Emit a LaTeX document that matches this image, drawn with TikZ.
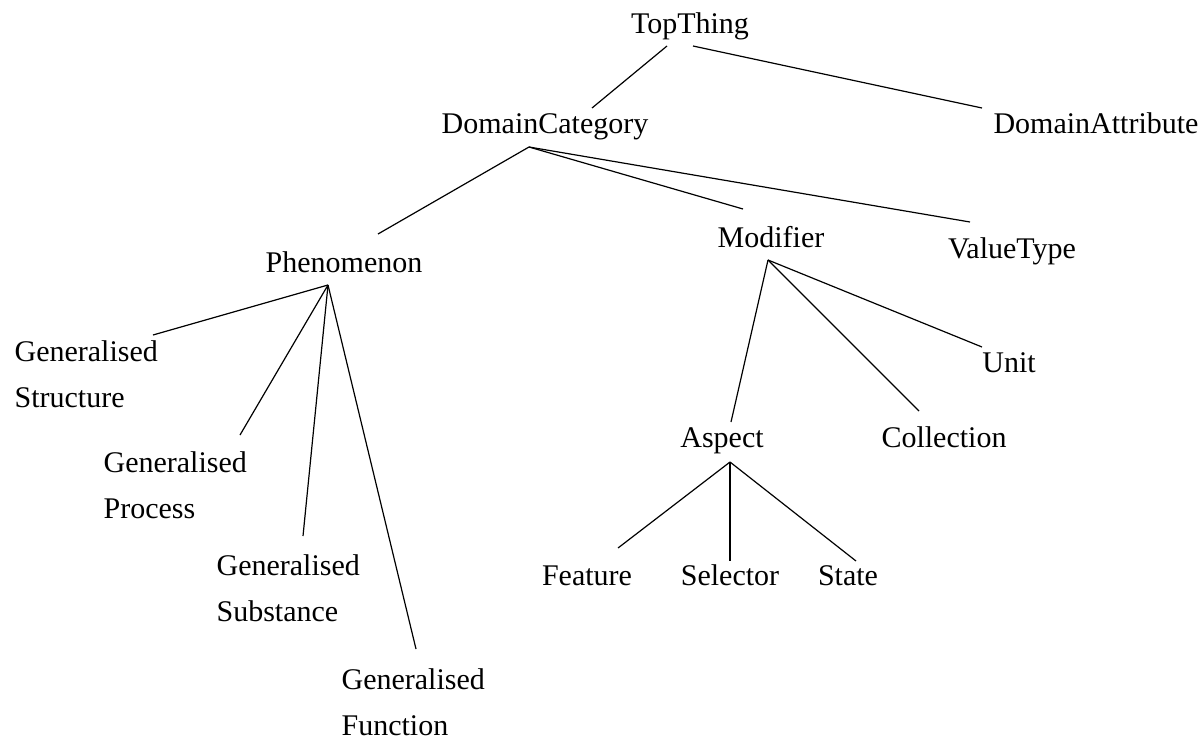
\documentclass[tikz,border=0pt]{standalone}
\usepackage{fontspec}
\setmainfont{Liberation Serif}
\tikzset{lbl/.style={inner sep=0pt,anchor=base,font=\fontsize{15}{23}\selectfont},
	lbltwo/.style={lbl,anchor=base west,align=left}}
\begin{document}
\begin{tikzpicture}[x=0.5pt,y=-0.5pt,line width=0.6pt]
	\useasboundingbox (0,0) rectangle (1203,740);
	\node[lbl] (top) at (690,33) {TopThing};
	\node[lbl] (dcat) at (545,133) {DomainCategory};
	\node[lbl] (dattr) at (1096,133) {DomainAttribute};
	\node[lbl] (phen) at (344,272) {Phenomenon};
	\node[lbl] (modi) at (771,247) {Modifier};
	\node[lbl] (vtype) at (1012,258) {ValueType};
	\node[lbltwo] (gstruct) at (14,407) {Generalised\\Structure};
	\node[lbltwo] (gproc) at (103,518) {Generalised\\Process};
	\node[lbltwo] (gsubst) at (216,621) {Generalised\\Substance};
	\node[lbltwo] (gfunc) at (341,735) {Generalised\\Function};
	\node[lbl] (unit) at (1009,372) {Unit};
	\node[lbl] (aspect) at (722,447) {Aspect};
	\node[lbl] (coll) at (944,447) {Collection};
	\node[lbl] (feat) at (587,585) {Feature};
	\node[lbl] (sel) at (730,585) {Selector};
	\node[lbl] (state) at (848,585) {State};
	\draw ([shift={(-23,13)}]top.base) -- ([shift={(47,-25)}]dcat.base);
	\draw ([shift={(3,13)}]top.base) -- ([shift={(-114,-25)}]dattr.base);
	\draw ([shift={(34,-38)}]phen.base) -- ([shift={(-16,14)}]dcat.base) -- ([shift={(-28,-38)}]modi.base);
	\draw ([shift={(-16,14)}]dcat.base) -- ([shift={(-42,-36)}]vtype.base);
	\draw ([shift={(-16,13)}]phen.base) -- ([shift={(139,-72)}]gstruct.base west);
	\draw ([shift={(-16,13)}]phen.base) -- ([shift={(137,-83)}]gproc.base west);
	\draw ([shift={(-16,13)}]phen.base) -- ([shift={(87,-85)}]gsubst.base west);
	\draw ([shift={(-16,13)}]phen.base) -- ([shift={(75,-86)}]gfunc.base west);
	\draw ([shift={(-3,13)}]modi.base) -- ([shift={(9,-25)}]aspect.base);
	\draw ([shift={(-3,13)}]modi.base) -- ([shift={(-25,-36)}]coll.base);
	\draw ([shift={(-3,13)}]modi.base) -- ([shift={(-27,-25)}]unit.base);
	\draw ([shift={(8,15)}]aspect.base) -- ([shift={(31,-37)}]feat.base);
	\draw ([shift={(8,15)}]aspect.base) -- ([shift={(0,-24)}]sel.base);
	\draw ([shift={(8,15)}]aspect.base) -- ([shift={(8,-24)}]state.base);
\end{tikzpicture}
\end{document}
